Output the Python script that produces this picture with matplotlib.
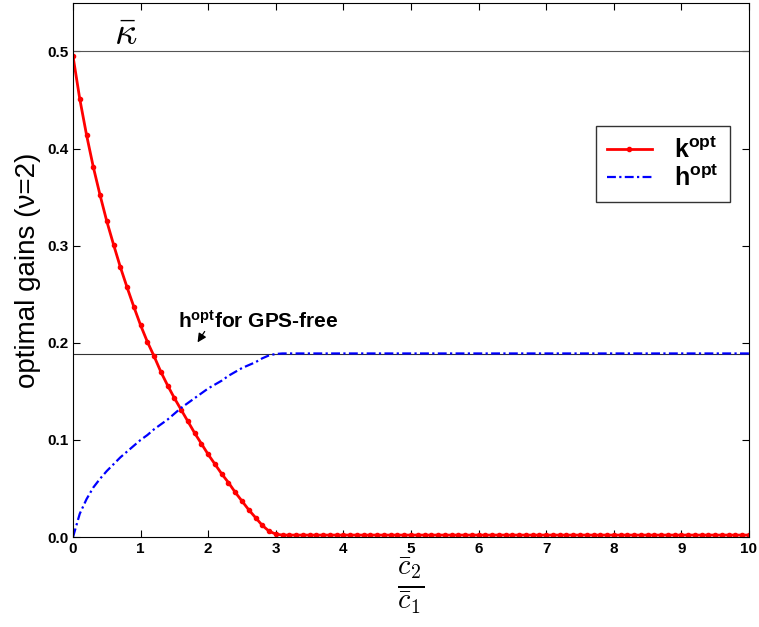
import numpy as np
import matplotlib
matplotlib.use("Agg")
import matplotlib.pyplot as plt
from matplotlib.ticker import MultipleLocator

plt.rcParams['font.family'] = ['Liberation Sans', 'DejaVu Sans']
plt.rcParams['mathtext.fontset'] = 'custom'
plt.rcParams['mathtext.rm'] = 'Liberation Sans'
plt.rcParams['mathtext.bf'] = 'Liberation Sans:bold'
plt.rcParams['mathtext.it'] = 'Liberation Sans:italic'

# sampling grid of the ratio c2/c1 (step 0.1)
x_grid = [
    0.0, 0.1, 0.2, 0.3, 0.4, 0.5, 0.6, 0.7, 0.8, 0.9,
    1.0, 1.1, 1.2, 1.3, 1.4, 1.5, 1.6, 1.7, 1.8, 1.9,
    2.0, 2.1, 2.2, 2.3, 2.4, 2.5, 2.6, 2.7, 2.8, 2.9,
    3.0, 3.1, 3.2, 3.3, 3.4, 3.5, 3.6, 3.7, 3.8, 3.9,
    4.0, 4.1, 4.2, 4.3, 4.4, 4.5, 4.6, 4.7, 4.8, 4.9,
    5.0, 5.1, 5.2, 5.3, 5.4, 5.5, 5.6, 5.7, 5.8, 5.9,
    6.0, 6.1, 6.2, 6.3, 6.4, 6.5, 6.6, 6.7, 6.8, 6.9,
    7.0, 7.1, 7.2, 7.3, 7.4, 7.5, 7.6, 7.7, 7.8, 7.9,
    8.0, 8.1, 8.2, 8.3, 8.4, 8.5, 8.6, 8.7, 8.8, 8.9,
    9.0, 9.1, 9.2, 9.3, 9.4, 9.5, 9.6, 9.7, 9.8, 9.9,
    10.0,
]

k_opt = [
    0.495, 0.451, 0.414, 0.381, 0.352, 0.325, 0.301, 0.278, 0.257, 0.237,
    0.218, 0.201, 0.186, 0.170, 0.156, 0.143, 0.131, 0.119, 0.107, 0.096,
    0.085, 0.075, 0.065, 0.056, 0.046, 0.037, 0.028, 0.020, 0.012, 0.006,
    0.003, 0.002, 0.002, 0.002, 0.002, 0.002, 0.002, 0.002, 0.002, 0.002,
    0.002, 0.002, 0.002, 0.002, 0.002, 0.002, 0.002, 0.002, 0.002, 0.002,
    0.002, 0.002, 0.002, 0.002, 0.002, 0.002, 0.002, 0.002, 0.002, 0.002,
    0.002, 0.002, 0.002, 0.002, 0.002, 0.002, 0.002, 0.002, 0.002, 0.002,
    0.002, 0.002, 0.002, 0.002, 0.002, 0.002, 0.002, 0.002, 0.002, 0.002,
    0.002, 0.002, 0.002, 0.002, 0.002, 0.002, 0.002, 0.002, 0.002, 0.002,
    0.002, 0.002, 0.002, 0.002, 0.002, 0.002, 0.002, 0.002, 0.002, 0.002,
    0.002,
]

h_opt = [
    0.000, 0.024, 0.039, 0.051, 0.060, 0.068, 0.075, 0.082, 0.088, 0.094,
    0.100, 0.105, 0.111, 0.116, 0.121, 0.127, 0.133, 0.138, 0.143, 0.148,
    0.153, 0.157, 0.161, 0.166, 0.170, 0.174, 0.177, 0.180, 0.184, 0.187,
    0.1885, 0.189, 0.189, 0.189, 0.189, 0.189, 0.189, 0.189, 0.189, 0.189,
    0.189, 0.189, 0.189, 0.189, 0.189, 0.189, 0.189, 0.189, 0.189, 0.189,
    0.189, 0.189, 0.189, 0.189, 0.189, 0.189, 0.189, 0.189, 0.189, 0.189,
    0.189, 0.189, 0.189, 0.189, 0.189, 0.189, 0.189, 0.189, 0.189, 0.189,
    0.189, 0.189, 0.189, 0.189, 0.189, 0.189, 0.189, 0.189, 0.189, 0.189,
    0.189, 0.189, 0.189, 0.189, 0.189, 0.189, 0.189, 0.189, 0.189, 0.189,
    0.189, 0.189, 0.189, 0.189, 0.189, 0.189, 0.189, 0.189, 0.189, 0.189,
    0.189,
]

kappa_bar = 0.5
h_gps_free = 0.188

fig = plt.figure(figsize=(7.59, 6.27), dpi=100)
ax = fig.add_axes([0.0962, 0.1435, 0.8906, 0.852])

# reference levels
ax.axhline(kappa_bar, color='#555555', lw=0.8)
ax.axhline(h_gps_free, color='#333333', lw=0.8)

ax.plot(x_grid, k_opt, color='red', lw=2, marker='.', ms=6,
        label=r'$\mathbf{k}^{\mathbf{opt}}$')
ax.plot(x_grid, h_opt, color='blue', lw=1.6, ls=(0, (4, 1.5, 1, 1.5)),
        label=r'$\mathbf{h}^{\mathbf{opt}}$')

ax.text(0.6, 0.508, r'$\bar{\kappa}$', fontsize=28, math_fontfamily='cm')

ax.text(1.55, 0.215, r'$\mathbf{h}^{\mathbf{opt}}$for GPS-free',
        fontsize=15, fontweight='bold')
ax.annotate('', xy=(1.82, 0.198), xytext=(1.97, 0.214),
            arrowprops=dict(arrowstyle='-|>', color='black', lw=0.9,
                            mutation_scale=13))

ax.set_xlim(0, 10)
ax.set_ylim(0, 0.55)
ax.xaxis.set_major_locator(MultipleLocator(1))
ax.yaxis.set_major_locator(MultipleLocator(0.1))
ax.tick_params(direction='in', top=True, right=True, labelsize=11, length=5)
for t in ax.get_xticklabels() + ax.get_yticklabels():
    t.set_fontweight('bold')

ax.set_ylabel('optimal gains (ν=2)', fontsize=20, labelpad=4)
ax.set_xlabel(r'$\frac{\bar{c}_2}{\bar{c}_1}$', fontsize=29,
              math_fontfamily='cm', labelpad=0)

leg = ax.legend(loc='upper right', bbox_to_anchor=(0.972, 0.770),
                fontsize=18, fancybox=False, edgecolor='black',
                handlelength=1.8, handletextpad=0.9, borderpad=0.45,
                labelspacing=0.1, borderaxespad=0)
leg.get_frame().set_linewidth(1.0)

plt.savefig('out.png', dpi=100)
plt.close()
